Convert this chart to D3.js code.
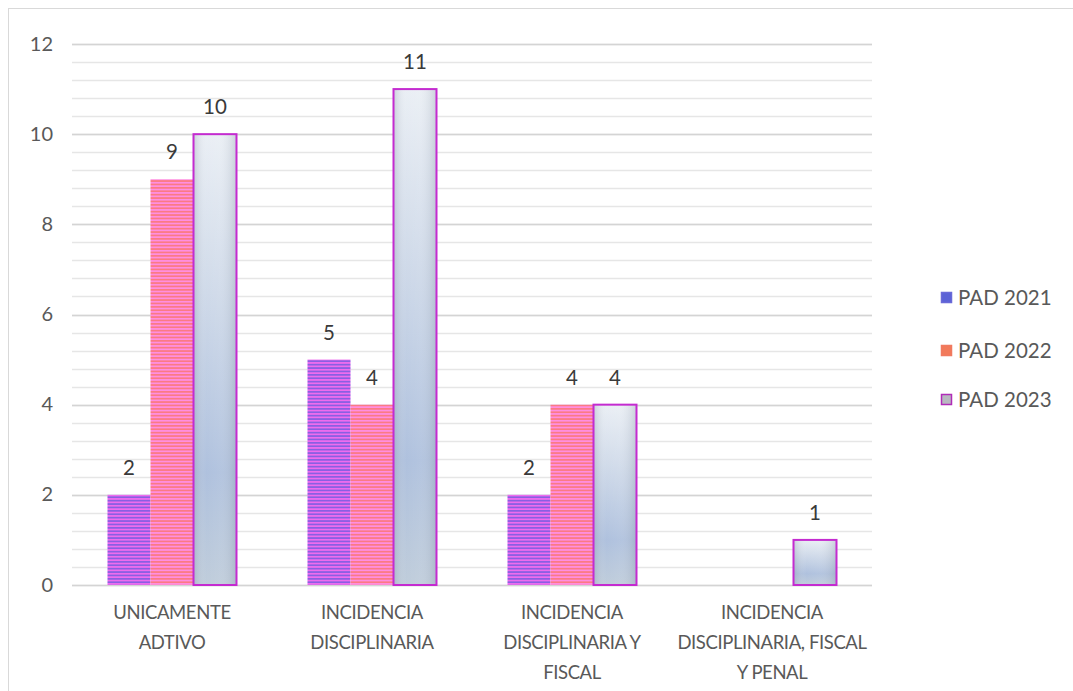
<!DOCTYPE html>
<html><head><meta charset="utf-8">
<script src="https://cdn.jsdelivr.net/npm/d3@7"></script>
<style>
body{margin:0;background:#fff;}
svg{display:block;}
text{font-family:Lato,"Open Sans",sans-serif;}
</style></head>
<body><svg id="chart" width="1073" height="691"></svg>
<script>
const categories = [
  ["UNICAMENTE","ADTIVO"],
  ["INCIDENCIA","DISCIPLINARIA"],
  ["INCIDENCIA","DISCIPLINARIA Y","FISCAL"],
  ["INCIDENCIA","DISCIPLINARIA, FISCAL","Y PENAL"]
];
const seriesNames = ["PAD 2021","PAD 2022","PAD 2023"];
const pad2021 = [2, 5, 2, 0];
const pad2022 = [9, 4, 4, 0];
const pad2023 = [10, 11, 4, 1];
const yTicks = [0, 2, 4, 6, 8, 10, 12];

const svg = d3.select("#chart");
const defs = svg.append("defs");

// striped fills
function stripes(id, c1, c2){
  const p = defs.append("pattern").attr("id", id).attr("patternUnits","userSpaceOnUse")
    .attr("width", 10).attr("height", 3.4);
  p.append("rect").attr("width",10).attr("height",3.4).attr("fill", c1);
  p.append("rect").attr("y",1.7).attr("width",10).attr("height",1.7).attr("fill", c2);
}
stripes("s2021", "#8a5fe2", "#ee6cee");
stripes("s2022", "#fb7a84", "#ff8ee0");

// 2023 bars: light top fading into blue-grey, with darker sides
const gv = defs.append("linearGradient").attr("id","g2023").attr("x1",0).attr("x2",0).attr("y1",0).attr("y2",1);
gv.append("stop").attr("offset","0%").attr("stop-color","#e9eef4");
gv.append("stop").attr("offset","35%").attr("stop-color","#cdd8e8");
gv.append("stop").attr("offset","75%").attr("stop-color","#abbedc");
gv.append("stop").attr("offset","100%").attr("stop-color","#bccad9");
const gh = defs.append("linearGradient").attr("id","g2023h").attr("x1",0).attr("x2",1).attr("y1",0).attr("y2",0);
gh.append("stop").attr("offset","0%").attr("stop-color","#8f9aaa").attr("stop-opacity",0.35);
gh.append("stop").attr("offset","30%").attr("stop-color","#ffffff").attr("stop-opacity",0.05);
gh.append("stop").attr("offset","60%").attr("stop-color","#ffffff").attr("stop-opacity",0.1);
gh.append("stop").attr("offset","100%").attr("stop-color","#8f9aaa").attr("stop-opacity",0.35);

const fills = ["url(#s2021)","url(#s2022)","url(#g2023)"];
const legendFill = ["#5b62d6","#f27a5a","#b8b8c0"];
const legendStroke = ["#6a6ad8","#f07a60","#b02cb8"];

// outer frame
svg.append("rect").attr("x",8.5).attr("y",8.5).attr("width",1070).attr("height",690)
  .attr("fill","none").attr("stroke","#d9d9d9");

const x0 = 72, x1 = 872, yTop = 44, yBot = 585;
const x = d3.scaleBand().domain(d3.range(categories.length)).range([x0, x1]);
const xs = d3.scaleBand().domain(d3.range(3)).range([0, 129]);
const y = d3.scaleLinear().domain([0, 12]).range([yBot, yTop]);

// minor and major gridlines
const minor = d3.range(0, 12.01, 0.4);
svg.append("g").selectAll("line").data(minor).join("line")
  .attr("x1", x0).attr("x2", x1)
  .attr("y1", d => Math.round(y(d)) + 0.5).attr("y2", d => Math.round(y(d)) + 0.5)
  .attr("stroke", "#e6e6e6").attr("stroke-width", 1.3);
svg.append("g").selectAll("line").data(yTicks).join("line")
  .attr("x1", x0).attr("x2", x1)
  .attr("y1", d => Math.round(y(d)) + 0.5).attr("y2", d => Math.round(y(d)) + 0.5)
  .attr("stroke", "#d4d4d4").attr("stroke-width", 1.6);

// y axis labels
const yAxis = d3.axisLeft(y).tickValues(yTicks).tickSize(0).tickPadding(0);
const ya = svg.append("g").attr("transform", "translate(53,0)").call(yAxis);
ya.select(".domain").remove();
ya.selectAll("text").attr("font-size", 20).attr("fill", "#595959")
  .attr("font-family", "Lato, sans-serif").attr("dy", "0.3em");

// bars
const all = [pad2021, pad2022, pad2023];
const off = (x.bandwidth() - 129) / 2;
all.forEach((vals, s) => {
  const g = svg.append("g");
  vals.forEach((v, i) => {
    if (v <= 0) return;
    const bx = x(i) + off + xs(s), bw = xs.bandwidth();
    g.append("rect").attr("x", bx).attr("y", y(v)).attr("width", bw).attr("height", y(0) - y(v))
      .attr("fill", fills[s]);
    if (s === 2) {
      g.append("rect").attr("x", bx).attr("y", y(v)).attr("width", bw).attr("height", y(0) - y(v))
        .attr("fill", "url(#g2023h)").attr("stroke", "#c42bd0").attr("stroke-width", 2);
    }
    svg.append("text").attr("x", bx + bw / 2).attr("y", y(v) - 20)
      .attr("text-anchor", "middle").attr("font-size", 20.5).attr("fill", "#3a3a3a")
      .text(v);
  });
});

// category labels
categories.forEach((lines, i) => {
  const cx = x(i) + x.bandwidth() / 2;
  const t = svg.append("text").attr("x", cx).attr("y", 619)
    .attr("text-anchor", "middle").attr("font-size", 18.5).attr("fill", "#595959")
    .attr("font-family", "Lato, sans-serif").attr("letter-spacing", -0.4);
  lines.forEach((l, k) => t.append("tspan").attr("x", cx)
    .attr("dy", k === 0 ? 0 : 30).text(l));
});

// legend
const legY = [298, 351, 400];
seriesNames.forEach((n, i) => {
  svg.append("rect").attr("x", 941.5).attr("y", legY[i] - 5.5).attr("width", 10).attr("height", 10)
    .attr("fill", legendFill[i]).attr("stroke", legendStroke[i]).attr("stroke-width", 1.5);
  svg.append("text").attr("x", 958).attr("y", legY[i] + 7).attr("font-size", 20.5)
    .attr("fill", "#595959").text(n);
});
</script></body></html>
